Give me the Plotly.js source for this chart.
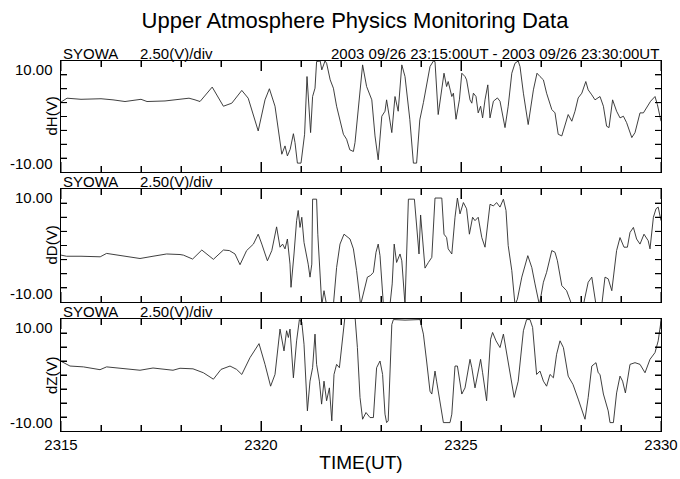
<!DOCTYPE html>
<html>
<head>
<meta charset="utf-8">
<script src="https://cdn.plot.ly/plotly-3.0.1.min.js"></script>
<style>
html,body{margin:0;padding:0;background:#fff;}
#wrap{position:relative;width:680px;height:479px;overflow:hidden;}
.p{position:absolute;left:0;width:680px;}
</style>
</head>
<body>
<div id="wrap">
  <div id="pH" class="p" style="top:0;height:174px"></div>
  <div id="pD" class="p" style="top:174px;height:130px"></div>
  <div id="pZ" class="p" style="top:304px;height:175px"></div>
</div>
<script>
// Minutes after 23:15 UT
const tH = [0, 0.15, 0.5, 1.0, 1.3, 1.6, 2.0, 2.15, 2.6, 3.0, 3.2, 3.35, 3.475, 3.78, 4.06, 4.27, 4.52, 4.68, 4.93, 5.1, 5.21, 5.35, 5.52, 5.6, 5.66, 5.73, 5.81, 5.85, 5.91, 6.0, 6.09, 6.15, 6.2, 6.24, 6.29, 6.35, 6.39, 6.48, 6.52, 6.6, 6.64, 6.73, 6.81, 6.89, 7.06, 7.14, 7.22, 7.31, 7.35, 7.475, 7.54, 7.64, 7.77, 7.85, 7.93, 8.02, 8.1, 8.14, 8.2, 8.27, 8.35, 8.43, 8.52, 8.6, 8.72, 8.81, 8.89, 8.97, 9.06, 9.14, 9.225, 9.31, 9.35, 9.43, 9.52, 9.575, 9.64, 9.68, 9.77, 9.81, 9.875, 9.96, 10.02, 10.1, 10.14, 10.225, 10.27, 10.31, 10.375, 10.43, 10.49, 10.54, 10.6, 10.67, 10.725, 10.81, 10.91, 10.975, 11.1, 11.18, 11.27, 11.35, 11.43, 11.475, 11.56, 11.68, 11.81, 11.9, 11.975, 12.06, 12.14, 12.27, 12.35, 12.43, 12.52, 12.6, 12.68, 12.77, 12.85, 12.93, 13.02, 13.12, 13.18, 13.27, 13.35, 13.475, 13.56, 13.64, 13.7, 13.79, 13.89, 13.975, 14.06, 14.14, 14.27, 14.35, 14.475, 14.56, 14.64, 14.74, 14.85, 14.91, 15.0];
const dH = [2.6, 3.3, 3.1, 3.2, 3.0, 2.7, 3.1, 2.7, 2.8, 3.2, 3.3, 3.0, 2.7, 5.3, 1.85, 2.4, 4.7, 3.3, -2.6, 3.0, 5.0, 1.85, -6.8, -5.3, -7.1, -5.9, -3.1, -4.7, -8.4, -8.4, -3.2, 7.2, 2.4, -2.9, 3.6, 5.1, 9.9, 10, 8.4, 10, 9.6, 6.6, 5.1, 1.85, -3.2, -4.1, -6.0, -6.3, -4.7, 4.7, 9.3, 5.4, 3.0, -3.5, -7.8, 0.05, 0.95, 3.0, 0.35, -2.9, 3.6, 0.95, 9.3, 7.2, -0.5, -8.4, -8.4, -0.6, 2.5, 6.0, 9.0, 10, 9.9, 0.35, 4.8, 7.8, 5.4, 6.3, 3.6, 4.2, -0.5, 3.0, 7.8, 7.2, 6.6, 3.0, 2.4, 4.2, 3.6, 0.65, 1.85, -0.25, 3.0, 5.7, -0.25, 2.75, 3.35, 2.75, -2.0, 1.85, 7.8, 9.6, 10, 9.0, 4.2, -1.45, 4.8, 7.8, 7.2, 6.6, 4.2, 1.25, 0.65, -3.2, -3.5, -1.75, 0.35, -0.85, 0.95, 3.35, 4.2, 6.3, 4.8, 3.9, 3.0, 3.6, 1.85, -1.75, -2.0, 3.0, 0.95, -0.25, 0.05, -1.1, -3.8, -2.9, 0.65, 0.65, 1.55, 2.75, 3.6, 2.15, -0.85];

const tD = [0, 0.14, 0.5, 0.98, 1.14, 1.5, 1.975, 2.3, 2.64, 2.975, 3.06, 3.29, 3.52, 3.81, 4.06, 4.21, 4.35, 4.475, 4.64, 4.81, 4.93, 5.02, 5.16, 5.27, 5.39, 5.475, 5.54, 5.6, 5.66, 5.725, 5.75, 5.825, 5.89, 5.93, 5.975, 6.02, 6.075, 6.18, 6.225, 6.27, 6.29, 6.39, 6.42, 6.52, 6.575, 6.64, 6.81, 6.89, 6.975, 7.075, 7.14, 7.225, 7.31, 7.39, 7.49, 7.56, 7.66, 7.74, 7.81, 7.875, 7.93, 7.975, 8.06, 8.225, 8.28, 8.33, 8.39, 8.475, 8.52, 8.6, 8.685, 8.835, 8.91, 8.95, 8.99, 9.1, 9.185, 9.27, 9.35, 9.52, 9.575, 9.64, 9.68, 9.77, 9.85, 9.91, 9.975, 10.06, 10.14, 10.21, 10.29, 10.35, 10.43, 10.52, 10.6, 10.64, 10.725, 10.81, 10.89, 10.975, 11.06, 11.125, 11.18, 11.27, 11.35, 11.41, 11.52, 11.67, 11.77, 11.85, 11.96, 12.06, 12.14, 12.27, 12.35, 12.41, 12.52, 12.64, 12.77, 13.06, 13.18, 13.27, 13.375, 13.52, 13.6, 13.68, 13.77, 13.89, 13.975, 14.075, 14.16, 14.225, 14.31, 14.39, 14.475, 14.575, 14.68, 14.725, 14.81, 14.875, 14.93, 15.0];
const dD = [-1.7, -1.9, -1.9, -2.0, -1.4, -1.8, -2.3, -1.9, -1.5, -1.6, -1.7, -2.4, -0.8, -2.45, -0.8, -0.9, -1.5, -3.4, -0.9, 0.25, 2.0, 0.25, -2.7, -0.9, 3.3, -0.3, 0.25, -0.6, 1.15, -3.3, -7.4, -1.5, 4.4, 6.2, 3.2, 5.0, 0.55, -3.3, -5.6, -3.3, 8.2, 8.2, 2.0, -10.5, -8.0, -10.5, -10.5, -3.9, 0.25, 2.0, 1.6, 1.15, -0.6, -4.45, -10.5, -8.6, -5.6, -5.3, -4.75, -1.2, 0.25, -1.8, -10.5, -10.5, -6.8, 0.25, -3.0, -1.5, -2.7, -10.5, 8.2, 8.2, 2.0, -1.5, 5.4, -4.0, -3.0, -2.1, 8.4, 8.4, 2.0, 1.4, -0.6, -1.5, 5.0, 8.4, 5.6, 7.6, 6.5, 2.0, 5.0, 4.4, 5.0, 1.4, -0.3, 2.0, 7.3, 7.0, 7.6, 6.8, 8.2, 6.2, 0, -4.45, -10.5, -9.5, -5.6, -1.8, -3.9, -6.8, -10.5, -6.5, -4.75, -0.9, -1.2, -2.7, -7.1, -8.0, -10.5, -10.5, -6.5, -5.6, -10.5, -10.5, -5.6, -5.9, -8.0, -0.9, 1.4, -0.3, -0.3, 2.3, 3.2, 1.15, 0.25, 2.0, 0.85, -0.6, 5.0, 6.5, 6.8, 4.4];

const tZ = [0, 0.225, 0.56, 0.975, 1.14, 1.5, 1.975, 2.3, 2.8, 2.975, 3.3, 3.56, 3.81, 4.0, 4.225, 4.39, 4.52, 4.725, 4.95, 5.1, 5.24, 5.35, 5.475, 5.575, 5.64, 5.685, 5.725, 5.81, 5.89, 5.96, 6.02, 6.075, 6.16, 6.225, 6.29, 6.35, 6.39, 6.46, 6.515, 6.575, 6.64, 6.71, 6.77, 6.825, 6.89, 6.96, 7.06, 7.1, 7.35, 7.41, 7.475, 7.54, 7.625, 7.725, 7.81, 7.89, 7.975, 8.04, 8.1, 8.14, 8.18, 8.27, 8.31, 8.6, 8.975, 9.06, 9.14, 9.225, 9.27, 9.35, 9.39, 9.475, 9.56, 9.725, 9.77, 9.85, 9.91, 10.02, 10.1, 10.225, 10.27, 10.35, 10.41, 10.49, 10.54, 10.64, 10.74, 10.79, 10.875, 10.975, 11.06, 11.18, 11.33, 11.43, 11.56, 11.64, 11.725, 11.79, 11.89, 11.975, 12.06, 12.14, 12.225, 12.31, 12.39, 12.475, 12.56, 12.68, 12.8, 12.93, 13.02, 13.1, 13.18, 13.27, 13.375, 13.43, 13.475, 13.56, 13.68, 13.725, 13.81, 13.89, 13.975, 14.04, 14.11, 14.225, 14.35, 14.475, 14.6, 14.725, 14.85, 14.93, 15.0];
const dZ = [2.45, 1.6, 1.45, 0.95, 1.45, 1.2, 0.85, 1.25, 0.85, 1.2, 1.1, 0.4, -0.75, 1.0, 1.6, 1.0, 0.1, 3.1, 5.6, 1.9, -2.0, 0.1, 8.2, 4.3, 7.9, 6.7, 8.2, -0.5, 6.1, 9.9, 9.4, 5.5, -6.4, -1.1, 1.3, 7.3, 1.9, -1.1, -5.2, -1.1, -4.6, -2.3, -8.2, 0.1, 1.9, 1.3, 9.0, 10.5, 10.5, 4.9, -4.0, -7.9, -6.7, -7.6, -7.6, 1.3, 2.5, 0.1, -7.0, -8.5, -8.2, 9.0, 9.9, 9.8, 9.9, 7.3, 2.5, -2.9, -3.4, 0.7, -1.1, -5.2, -8.5, -8.5, -7.0, 1.6, 1.6, -3.4, -2.3, 2.8, 1.3, -2.3, 0.1, 2.8, 0.4, -4.6, 6.4, 7.6, 6.1, 4.9, 7.3, 2.5, -4.0, -1.1, 7.9, 9.9, 9.9, 8.5, 0.1, 0.7, -1.1, -2.0, 0.1, -0.5, 3.7, 6.1, 4.9, -0.2, -1.7, -4.3, -6.4, -7.9, -4.0, 1.6, 2.2, 0.4, 0.1, -3.4, -6.4, -8.5, -8.5, -3.2, -0.2, -1.1, -3.2, 1.9, 2.2, 1.9, 0.4, 2.8, 4.0, 6.1, 9.6];

const startHHMM = 2315;
const xTickVals = [2315, 2320, 2325, 2330];
const xTickText = ["2315", "2320", "2325", "2330"];
const xMinorTickVals = [2316, 2317, 2318, 2319, 2321, 2322, 2323, 2324, 2326, 2327, 2328, 2329];
const yTickVals = [-10, -7.5, -5, -2.5, 0, 2.5, 5, 7.5, 10];
const yLabelTop = "10.00";
const yLabelBottom = "-10.00";
const panelNames = ["dH(V)", "dD(V)", "dZ(V)"];
const stationText = "SYOWA";
const scaleText = "2.50(V)/div";
const periodText = "2003 09/26 23:15:00UT - 2003 09/26 23:30:00UT";
const titleText = "Upper Atmosphere Physics Monitoring Data";
const xTitleText = "TIME(UT)";

const FONT = "Liberation Sans, Arial, Helvetica, sans-serif";
const toX = ts => ts.map(t => startHHMM + t);

function xAxis(labels) {
  return {
    range: [2315, 2330],
    tickmode: 'array', tickvals: xTickVals, ticktext: xTickText,
    showticklabels: labels, tickfont: {size: 15, color: '#000', family: FONT},
    ticks: 'inside', ticklen: 10, tickcolor: '#000',
    minor: {tickmode: 'linear', tick0: 2315, dtick: 1, ticks: 'inside', ticklen: 6, tickcolor: '#000'},
    showline: true, linecolor: '#000', linewidth: 1, mirror: 'ticks',
    showgrid: false, zeroline: false
  };
}
function yAxis() {
  return {
    range: [-10, 10],
    tickmode: 'array', tickvals: yTickVals, showticklabels: false,
    ticks: 'inside', ticklen: 6, tickcolor: '#000',
    showline: true, linecolor: '#000', linewidth: 1, mirror: 'ticks',
    showgrid: false, zeroline: false
  };
}
// Tick marks drawn at the axis tick values (fallback so they always show)
function tickShapes(plotH) {
  const s = [];
  const ln = {color: '#000', width: 1};
  const majF = 10 / plotH, minF = 6 / plotH, yF = 6 / 600;
  xTickVals.forEach(v => {
    s.push({type: 'line', layer: 'above', xref: 'x', yref: 'y domain', x0: v, x1: v, y0: 0, y1: majF, line: ln});
    s.push({type: 'line', layer: 'above', xref: 'x', yref: 'y domain', x0: v, x1: v, y0: 1 - majF, y1: 1, line: ln});
  });
  xMinorTickVals.forEach(v => {
    s.push({type: 'line', layer: 'above', xref: 'x', yref: 'y domain', x0: v, x1: v, y0: 0, y1: minF, line: ln});
    s.push({type: 'line', layer: 'above', xref: 'x', yref: 'y domain', x0: v, x1: v, y0: 1 - minF, y1: 1, line: ln});
  });
  yTickVals.slice(1, -1).forEach(v => {
    s.push({type: 'line', layer: 'above', xref: 'x domain', yref: 'y', x0: 0, x1: yF, y0: v, y1: v, line: ln});
    s.push({type: 'line', layer: 'above', xref: 'x domain', yref: 'y', x0: 1 - yF, x1: 1, y0: v, y1: v, line: ln});
  });
  return s;
}
function panelAnnotations(name, withPeriod) {
  const f = {size: 15, color: '#000', family: FONT};
  const a = [
    {xref: 'paper', yref: 'paper', x: 0, y: 1, xanchor: 'left', yanchor: 'bottom', yshift: -3, text: stationText, showarrow: false, font: f},
    {xref: 'paper', yref: 'paper', x: 77 / 600, y: 1, xanchor: 'left', yanchor: 'bottom', yshift: -3, text: scaleText, showarrow: false, font: f},
    {xref: 'paper', yref: 'y', x: -6 / 600, y: 10, xanchor: 'right', yanchor: 'top', yshift: 2, text: yLabelTop, showarrow: false, font: f},
    {xref: 'paper', yref: 'y', x: -6 / 600, y: -10, xanchor: 'right', yanchor: 'bottom', yshift: -2, text: yLabelBottom, showarrow: false, font: f},
    {xref: 'paper', yref: 'paper', x: -10 / 600, y: 0.5, xanchor: 'center', yanchor: 'middle', textangle: -90, text: name, showarrow: false, font: f}
  ];
  if (withPeriod) {
    a.push({xref: 'paper', yref: 'paper', x: 1, y: 1, xanchor: 'right', yanchor: 'bottom', yshift: -3, text: periodText, showarrow: false, font: f});
  }
  return a;
}
function makePanel(id, ts, vs, name, height, margin, opts) {
  const plotH = height - margin.t - margin.b;
  const layout = {
    width: 680, height: height, margin: margin, showlegend: false,
    paper_bgcolor: 'rgba(0,0,0,0)', plot_bgcolor: '#fff',
    font: {family: FONT, color: '#000'},
    xaxis: xAxis(!!opts.xlabels), yaxis: yAxis(),
    annotations: panelAnnotations(name, !!opts.period),
    shapes: tickShapes(plotH)
  };
  if (opts.title) {
    layout.title = {text: titleText, font: {size: 22, color: '#000', family: FONT},
      xref: 'container', yref: 'container', x: 355 / 680, xanchor: 'center', y: 1 - 20 / height, yanchor: 'middle'};
  }
  if (opts.xlabels) {
    layout.xaxis.title = {text: xTitleText, font: {size: 19, color: '#000', family: FONT}, standoff: 3};
    layout.xaxis.automargin = false;
  }
  const data = [{x: toX(ts), y: vs, type: 'scatter', mode: 'lines', line: {color: '#2a2a2a', width: 0.9}, hoverinfo: 'skip'}];
  Plotly.newPlot(id, data, layout, {displayModeBar: false});
}

makePanel('pH', tH, dH, panelNames[0], 174, {l: 61, r: 19, t: 61, b: 2}, {title: true, period: true});
makePanel('pD', tD, dD, panelNames[1], 130, {l: 61, r: 19, t: 15, b: 2}, {});
makePanel('pZ', tZ, dZ, panelNames[2], 175, {l: 61, r: 19, t: 15, b: 48}, {xlabels: true});
</script>
</body>
</html>
